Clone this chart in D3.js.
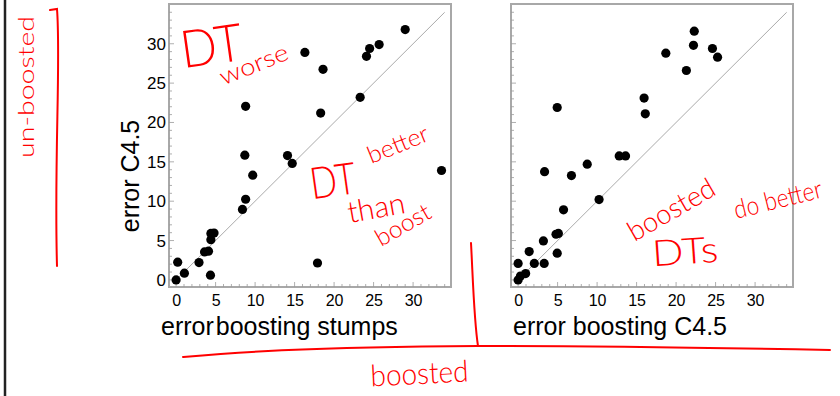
<!DOCTYPE html>
<html><head><meta charset="utf-8">
<script src="https://cdn.jsdelivr.net/npm/d3@7"></script>
<style>html,body{margin:0;padding:0;background:#fff;}svg{display:block;}</style>
</head><body>
<svg id="c" width="840" height="396"></svg>
<script>
// ---- data ----
const tickLabels = [0, 5, 10, 15, 20, 25, 30];
// left panel: error boosting stumps (x) vs error C4.5 (y)
const stumpsErr = [0, 0.2, 1.05, 2.9, 3.6, 4.1, 4.35, 4.4, 4.4, 4.8, 8.4, 8.8, 8.7, 8.8, 9.7, 14.1, 14.7, 16.3, 18.3, 18.6, 17.9, 23.3, 24.1, 24.5, 25.7, 29.0, 33.6];
const c45ErrA   = [0, 2.25, 0.85, 2.2, 3.55, 3.65, 0.6, 5.1, 5.9, 5.95, 8.95, 10.25, 15.85, 22.05, 13.3, 15.8, 14.8, 28.9, 21.2, 26.75, 2.15, 23.2, 28.4, 29.4, 29.9, 31.8, 13.9];
// right panel: error boosting C4.5 (x) vs error C4.5 (y)
const boostC45Err = [0, 0, 0.3, 0.95, 1.4, 2.05, 3.3, 3.2, 3.35, 4.8, 5.1, 4.95, 4.95, 5.75, 6.75, 8.75, 10.25, 12.8, 13.6, 15.95, 16.1, 18.7, 21.3, 22.2, 22.3, 24.6, 25.25];
const c45ErrB     = [0, 2.1, 0.5, 0.8, 3.6, 2.1, 2.1, 4.95, 13.75, 5.8, 5.9, 3.4, 21.9, 8.9, 13.25, 14.7, 10.2, 15.75, 15.75, 23.1, 21.1, 28.8, 26.6, 29.8, 31.6, 29.4, 28.3];
const diagonal = [0, 34];
const xTitles = ["error", "boosting stumps", "error boosting C4.5"];
const yTitle = "error C4.5";

const svg = d3.select("#c");
const FONT = "'Liberation Sans', Arial, Helvetica, sans-serif";
const yTop = 4, yBottom = 287;

function panel(x0, x1, xs, ys, showY) {
  const g = svg.append("g");
  const x = d3.scaleLinear().domain([-0.9, 34.8]).range([x0, x1]);
  const y = d3.scaleLinear().domain([-0.9, 35.05]).range([yBottom, yTop]);
  g.append("rect").attr("x", x0).attr("y", yTop).attr("width", x1 - x0).attr("height", yBottom - yTop)
    .attr("fill", "#fff").attr("stroke", "#a8a8a8").attr("stroke-width", 2);
  const minor = d3.range(0, 35, 1);
  g.selectAll(".xt").data(minor).join("line").attr("class", "xt")
    .attr("x1", d => x(d)).attr("x2", d => x(d))
    .attr("y1", yBottom).attr("y2", d => yBottom - (d % 5 === 0 ? 5 : 3))
    .attr("stroke", "#9a9a9a").attr("stroke-width", 0.8);
  g.selectAll(".yt").data(minor).join("line").attr("class", "yt")
    .attr("y1", d => y(d)).attr("y2", d => y(d))
    .attr("x1", x0).attr("x2", d => x0 + (d % 5 === 0 ? 5 : 3))
    .attr("stroke", "#9a9a9a").attr("stroke-width", 0.8);
  const ax = g.append("g").attr("transform", `translate(0,${yBottom})`)
    .call(d3.axisBottom(x).tickValues(tickLabels).tickSize(0).tickPadding(8).tickFormat(d3.format("d")));
  ax.select(".domain").remove();
  ax.selectAll("text").attr("font-family", FONT).attr("font-size", 16).attr("fill", "#000");
  if (showY) {
    const ay = g.append("g").attr("transform", `translate(${x0},0)`)
      .call(d3.axisLeft(y).tickValues(tickLabels).tickSize(0).tickPadding(3).tickFormat(d3.format("d")));
    ay.select(".domain").remove();
    ay.selectAll("text").attr("font-family", FONT).attr("font-size", 17).attr("fill", "#000");
  }
  g.append("line").attr("x1", x(diagonal[0])).attr("y1", y(diagonal[0]))
    .attr("x2", x(diagonal[1])).attr("y2", y(diagonal[1]))
    .attr("stroke", "#aaa").attr("stroke-width", 1);
  g.selectAll("circle").data(xs.map((v, i) => [v, ys[i]])).join("circle")
    .attr("cx", d => x(d[0])).attr("cy", d => y(d[1])).attr("r", 4.6).attr("fill", "#000");
  return {x, y};
}

panel(169, 451, stumpsErr, c45ErrA, true);
panel(511, 793, boostC45Err, c45ErrB, false);

// axis titles
const t1 = svg.append("text").attr("x", 161).attr("y", 335).attr("font-family", FONT).attr("font-size", 25).attr("fill", "#000");
t1.append("tspan").text(xTitles[0]);
t1.append("tspan").attr("dx", 2).text(xTitles[1]);
svg.append("text").attr("x", 513).attr("y", 335).attr("font-family", FONT).attr("font-size", 25).attr("fill", "#000").text(xTitles[2]);
svg.append("text").attr("transform", "translate(139,176) rotate(-90)").attr("text-anchor", "middle")
  .attr("font-family", FONT).attr("font-size", 25).attr("fill", "#000").text(yTitle);

// page edge line
svg.append("line").attr("x1", 5).attr("x2", 5).attr("y1", 0).attr("y2", 396).attr("stroke", "#222").attr("stroke-width", 2.5);

// ---- handwritten red annotations ----
const red = "#ff0000";
const strokes = [
  "M50,10 L57,9 C61,60 54,160 57,266",
  "M471,243 C473,280 474,320 478,346",
  "M183,357 C230,353 300,347 478,346 C600,346 720,348 830,350"
];
svg.selectAll("path.ink").data(strokes).join("path").attr("class", "ink")
  .attr("d", d => d).attr("fill", "none").attr("stroke", red).attr("stroke-width", 2).attr("stroke-linecap", "round");

const notes = [
  {t: "DT", x: 214, y: 64, s: 52, r: -8, w: 62},
  {t: "worse", x: 257, y: 72, s: 24, r: -22, w: 72},
  {t: "DT", x: 335, y: 196, s: 44, r: -8, w: 46},
  {t: "better", x: 401, y: 152, s: 24, r: -22, w: 64},
  {t: "than", x: 378, y: 218, s: 30, r: -10, w: 58},
  {t: "boost", x: 407, y: 232, s: 24, r: -30, w: 60},
  {t: "boosted", x: 676, y: 218, s: 28, r: -30, w: 96},
  {t: "DTs", x: 686, y: 264, s: 36, r: -4, w: 66},
  {t: "do better", x: 780, y: 208, s: 26, r: -14, w: 90},
  {t: "un-boosted", x: 34, y: 87, s: 22, r: -90, w: 142},
  {t: "boosted", x: 420, y: 384, s: 30, r: -3, w: 98}
];
svg.selectAll("text.note").data(notes).join("text").attr("class", "note")
  .attr("transform", d => `translate(${d.x},${d.y}) rotate(${d.r})`)
  .attr("text-anchor", "middle").attr("font-family", "Lato, 'Open Sans', sans-serif").attr("font-weight", 300)
  .attr("font-size", d => d.s).attr("fill", red)
  .attr("textLength", d => d.w).attr("lengthAdjust", "spacingAndGlyphs")
  .text(d => d.t);
</script>
</body></html>
